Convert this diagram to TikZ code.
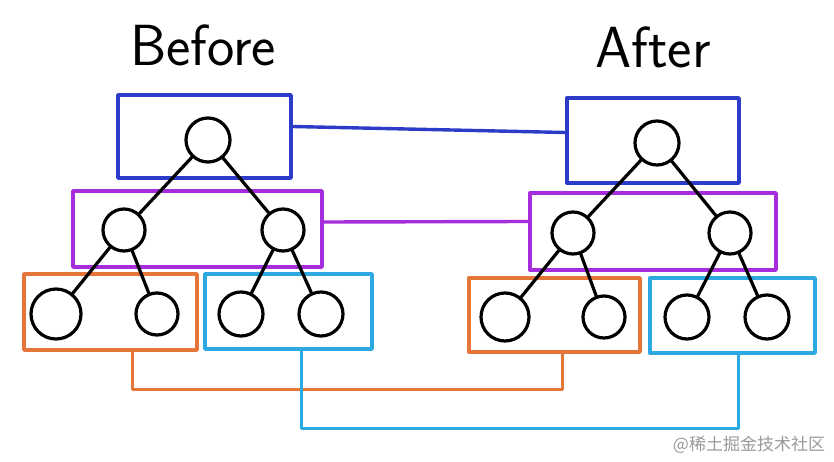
\documentclass[tikz,border=0pt]{standalone}
\usepackage{fontspec}
\newfontfamily\cjk{Noto Sans CJK SC}
\usetikzlibrary{trees}

\definecolor{boxblue}{RGB}{45,60,200}
\definecolor{boxpurple}{RGB}{165,45,220}
\definecolor{boxorange}{RGB}{228,118,58}
\definecolor{boxcyan}{RGB}{45,168,225}

\tikzset{
	ball/.style={circle, draw, line width=3.2pt, minimum size=44pt, inner sep=0pt},
	frame/.style={draw, line width=3.4pt, inner sep=0pt},
	link/.style={line width=3.4pt},
	title/.style={font=\sffamily\fontsize{58}{64}\selectfont},
	stamp/.style={text=black!40, font=\cjk\fontsize{17}{17}\selectfont}
}

\begin{document}
\begin{tikzpicture}[x=1pt, y=-1pt, line join=round, line cap=round,
		level 1/.style={level distance=90pt, sibling distance=158pt},
		level 2/.style={level distance=84pt, sibling distance=100pt},
		edge from parent/.style={draw, line width=3.2pt}]
	\useasboundingbox (0,0) rectangle (834,462);

	\node[title] (before) at (203,45) {Before};
	\node[title] (after) at (653,47) {After};

	% groups, left
	\node[frame, boxblue, minimum width=173pt, minimum height=83pt] (lblue) at (204.5,136.5) {};
	\node[frame, boxpurple, minimum width=249pt, minimum height=76pt] (lpurple) at (197.5,229) {};
	\node[frame, boxorange, minimum width=173pt, minimum height=76pt] (lorange) at (110.5,312) {};
	\node[frame, boxcyan, minimum width=167pt, minimum height=75pt] (lcyan) at (288.5,311.5) {};
	% groups, right
	\node[frame, boxblue, minimum width=172pt, minimum height=85pt] (rblue) at (653,140.5) {};
	\node[frame, boxpurple, minimum width=246pt, minimum height=77pt] (rpurple) at (653,231.5) {};
	\node[frame, boxorange, minimum width=171pt, minimum height=74pt] (rorange) at (554.5,315) {};
	\node[frame, boxcyan, minimum width=165pt, minimum height=75pt] (rcyan) at (732.5,315.5) {};

	% trees
	\node[ball] (lroot) at (208,140) {}
		child { node[ball, xshift=-5pt, minimum size=42pt] (la) {}
			child { node[ball, xshift=-18pt, minimum size=50pt] (la1) {}}
			child { node[ball, xshift=-17pt, minimum size=42pt] (la2) {}}
		}
		child { node[ball, xshift=-4pt, minimum size=42pt] (lb) {}
			child { node[ball, xshift=8pt] (lb1) {}}
			child { node[ball, xshift=-12pt] (lb2) {}}
		};
	\node[ball] (rroot) at (657,143) {}
		child { node[ball, xshift=-5pt, minimum size=42pt] (ra) {}
			child { node[ball, xshift=-18pt, minimum size=48pt] (ra1) {}}
			child { node[ball, xshift=-19pt, minimum size=42pt] (ra2) {}}
		}
		child { node[ball, xshift=-6pt, minimum size=42pt] (rb) {}
			child { node[ball, xshift=7pt] (rb1) {}}
			child { node[ball, xshift=-13pt] (rb2) {}}
		};

	% matching groups
	\draw[link, boxblue] ([yshift=10pt]lblue.east) -- ([yshift=8pt]rblue.west);
	\draw[link, boxpurple] ([yshift=7pt]lpurple.east) -- ([yshift=10pt]rpurple.west);
	\draw[link, boxorange] ([xshift=22pt]lorange.south) -- ++(0,38) -| ([xshift=8pt]rorange.south);
	\draw[link, boxcyan] ([xshift=13pt]lcyan.south) -- ++(0,78) -| ([xshift=6pt]rcyan.south);

	\node[stamp] (site) at (749,445) {@稀土掘金技术社区};
\end{tikzpicture}
\end{document}
